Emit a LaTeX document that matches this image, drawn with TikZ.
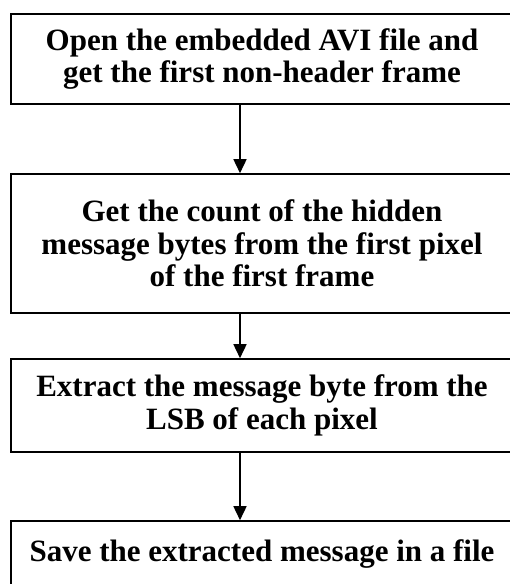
\documentclass[tikz,border=0pt]{standalone}
\usepackage{fontspec}
\setmainfont{Liberation Serif}
\usetikzlibrary{arrows.meta}

\begin{document}
\begin{tikzpicture}[x=1pt, y=-1pt]
    \tikzstyle{box}=[draw=black, line width=1.6pt, fill=white, minimum width=502pt,
                     align=center, inner sep=0pt, font=\fontsize{31}{32.5}\selectfont\bfseries]
    \tikzstyle{arr}=[-{Triangle[width=13pt, length=14pt]}, line width=1.6pt]
    \useasboundingbox (0,0) rectangle (510,584);
    \clip (0,0) rectangle (510,584);

    \node[box, minimum height=90pt]  (open)    at (262,59)    {Open the embedded AVI file and\\get the first non-header frame};
    \node[box, minimum height=139pt] (count)   at (262,243.5) {Get the count of the hidden\\message bytes from the first pixel\\of the first frame};
    \node[box, minimum height=93pt]  (extract) at (262,405.5) {Extract the message byte from the\\LSB of each pixel};
    \node[box, minimum height=66pt]  (save)    at (262,554)   {Save the extracted message in a file};

    \coordinate (ax) at (240,0);
    \draw[arr] (open.south -| ax)    -- (count.north -| ax);
    \draw[arr] (count.south -| ax)   -- (extract.north -| ax);
    \draw[arr] (extract.south -| ax) -- (save.north -| ax);
\end{tikzpicture}
\end{document}
